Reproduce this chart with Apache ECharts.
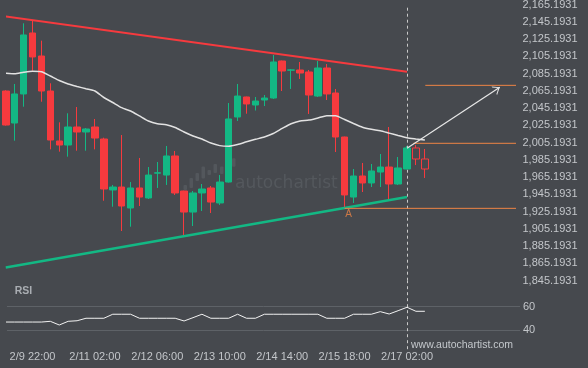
<!DOCTYPE html>
<html>
<head>
<meta charset="utf-8">
<title>Chart</title>
<script src="https://cdn.jsdelivr.net/npm/echarts@6.0.0/dist/echarts.min.js"></script>
<style>
html,body{margin:0;padding:0;background:#46494e;overflow:hidden;}
#chart{width:588px;height:368px;}
</style>
</head>
<body>
<div id="chart"></div>
<script>
// ---------------- data ----------------
const timeLabels = ['2/9 22:00', '2/11 02:00', '2/12 06:00', '2/13 10:00', '2/14 14:00', '2/15 18:00', '2/17 02:00'];
const timeLabelIndex = [3, 10, 17, 24, 31, 38, 45];

const opens  = [2065.1, 2028.0, 2061.7, 2132.4, 2105.7, 2065.1, 2007.2, 2002.5, 2023.4, 2017.6,
                2023.4, 2009.5, 1950.4, 1953.8, 1929.5, 1952.7, 1941.1, 1969.9, 1967.7, 1989.8,
                1949.2, 1924.8, 1946.9, 1952.7, 1935.3, 1959.6, 2035.0, 2058.2, 2048.9, 2054.7,
                2057.0, 2099.9, 2089.3, 2089.5, 2087.2, 2059.3, 2091.8, 2062.8, 2011.8, 1942.2,
                1966.6, 1958.5, 1971.2, 1977.0, 1957.3, 1974.7, 1999.1, 1986.3];
const closes = [2025.7, 2061.7, 2130.1, 2104.6, 2065.1, 2008.3, 2002.5, 2023.4, 2017.6, 2021.1,
                2010.6, 1951.5, 1953.8, 1931.8, 1952.7, 1942.2, 1967.7, 1970.3, 1989.8, 1946.9,
                1924.8, 1946.9, 1951.5, 1936.4, 1959.6, 2032.7, 2059.3, 2050.1, 2053.5, 2057.0,
                2098.8, 2088.3, 2089.6, 2086.0, 2060.5, 2091.8, 2061.7, 2011.8, 1944.6, 1966.6,
                1958.5, 1972.4, 1977.0, 1957.3, 1975.9, 1999.1, 1986.3, 1974.7];
const lows   = [2025.0, 2007.5, 2046.9, 2088.7, 2052.7, 1997.5, 1994.8, 1989.0, 1995.9, 1995.9,
                1997.5, 1937.9, 1931.0, 1902.8, 1907.8, 1931.8, 1939.9, 1952.7, 1956.2, 1944.6,
                1898.2, 1908.6, 1926.0, 1923.7, 1933.0, 1959.0, 2030.4, 2038.8, 2042.5, 2047.7,
                2055.9, 2065.1, 2067.5, 2079.1, 2038.5, 2058.2, 2054.7, 1994.4, 1930.6, 1935.3,
                1948.0, 1953.8, 1953.8, 1938.8, 1956.2, 1974.4, 1979.3, 1964.3];
const highs  = [2066.0, 2073.3, 2143.6, 2147.5, 2123.5, 2074.1, 2028.8, 2039.3, 2046.6, 2022.2,
                2032.7, 2011.0, 1956.2, 2014.1, 1959.6, 1987.5, 1977.0, 1982.8, 2001.4, 1995.6,
                1949.6, 1949.2, 1957.3, 1955.0, 1967.7, 2051.2, 2073.3, 2058.6, 2058.2, 2060.5,
                2106.9, 2100.4, 2090.6, 2098.8, 2089.5, 2099.9, 2096.4, 2067.5, 2012.2, 1974.7,
                1981.7, 1980.5, 1992.1, 2023.4, 1988.6, 2001.4, 2002.5, 1997.9];
const projectedFrom = 46;   // candles from this index on are the hollow (projected) ones

const maValues = [2085.7, 2085.1, 2086.8, 2088.0, 2087.4, 2082.5, 2077.3, 2073.3, 2070.4, 2067.7,
                  2065.1, 2057.6, 2051.8, 2045.8, 2041.9, 2036.2, 2030.4, 2027.2, 2025.9, 2022.8,
                  2017.6, 2013.0, 2009.5, 2004.8, 2001.8, 2001.1, 2003.1, 2006.2, 2009.1, 2011.8,
                  2015.9, 2021.7, 2027.2, 2030.4, 2031.4, 2033.9, 2036.5, 2036.4, 2032.1, 2027.5,
                  2023.2, 2020.8, 2019.1, 2016.3, 2013.5, 2011.0, 2009.6, 2008.3];

const rsiValues = [47.0, 47.0, 47.0, 47.0, 47.0, 47.6, 44.5, 47.6, 48.1, 50.2,
                   50.2, 50.2, 53.6, 53.6, 53.6, 50.2, 50.2, 50.2, 50.2, 50.2,
                   47.9, 50.7, 53.6, 50.2, 50.2, 50.2, 53.6, 50.2, 50.2, 53.6,
                   53.6, 53.6, 53.6, 53.6, 53.6, 53.6, 50.2, 50.2, 50.2, 53.6,
                   53.6, 53.6, 55.8, 53.8, 56.6, 59.5, 56.1, 56.1];

const priceTicks = [1845.1931, 1865.1931, 1885.1931, 1905.1931, 1925.1931, 1945.1931, 1965.1931,
                    1985.1931, 2005.1931, 2025.1931, 2045.1931, 2065.1931, 2085.1931, 2105.1931,
                    2125.1931, 2145.1931, 2165.1931];
const rsiTicks = [40, 60];

const resistanceLine = [[0, 2151.5], [45, 2087.5]];
const supportLine    = [[0, 1860.5], [45, 1942.2]];
const patternEndIndex = 45;
const supportLevel  = [38, 1929.1];
const breakoutLevel = [45.7, 2004.5];
const targetLevel   = [47.05, 2071.7];
const forecastArrow = [[45, 1998.7], [55.4, 2069.6]];
const pointA = [38.44, 1922.3];
const pointALabel = 'A';

// ---------------- styles / layout ----------------
const BG = '#46494e';
const GREEN = '#13b884';
const RED = '#f63a3e';
const ORANGE = '#ee8545';
const TXT = '#c3c6ca';
const GRIDC = '#5e6267';
const FONT = '"Liberation Sans", Arial, sans-serif';
const X_MIN = 0.14, X_MAX_MAIN = 57.22, X_MAX_RSI = 57.67;
const ARROW = 'path://M0,0 M13,13 M6.5,6.5 L11.5,13 L10.3,13 L6.5,8.1 L2.7,13 L1.5,13 Z';

function fmtPrice(v) {
  const s = (Math.round(v * 10000) / 10000).toFixed(4);
  const p = s.split('.');
  return p[0].replace(/\B(?=(\d{3})+(?!\d))/g, ',') + '.' + p[1];
}

const solidCandles = [], projectedCandles = [];
for (let i = 0; i < opens.length; i++) {
  const row = [i, opens[i], closes[i], lows[i], highs[i]];
  (i < projectedFrom ? solidCandles : projectedCandles).push(row);
}
const maData = maValues.map((v, i) => [i, v]);
const rsiData = rsiValues.map((v, i) => [i, v]);
const levelData = lv => [[lv[0], lv[1]], [X_MAX_MAIN, lv[1]]];

const chart = echarts.init(document.getElementById('chart'), null, {renderer: 'canvas', width: 588, height: 368});

const logoBars = [[183.5,185,3.5,5],[189.5,178,3.5,10],[195.5,173,3.5,8],[201.5,166.5,3.5,12],
                  [207.5,170,3.5,5],[213.5,164,3.5,9],[220,166.5,3.5,7.5],[226.5,160,3.5,10],[232,158.3,3.5,8.4]];

const option = {
  backgroundColor: BG,
  animation: false,
  textStyle: {fontFamily: FONT},
  grid: [
    {left: 7, top: 4.7, width: 509, height: 276, outerBoundsMode: 'none', containLabel: false},
    {left: 7, top: 280.7, width: 513, height: 68.5, outerBoundsMode: 'none', containLabel: false}
  ],
  xAxis: [
    {type: 'value', gridIndex: 0, min: X_MIN, max: X_MAX_MAIN, show: false},
    {type: 'value', gridIndex: 1, min: X_MIN, max: X_MAX_RSI,
     axisLine: {show: false}, axisTick: {show: false}, splitLine: {show: false},
     axisLabel: {customValues: timeLabelIndex, color: TXT, fontSize: 11, fontFamily: FONT, margin: 2,
                 showMinLabel: true, showMaxLabel: true, hideOverlap: false,
                 formatter: v => { const k = timeLabelIndex.indexOf(Math.round(v)); return k >= 0 ? timeLabels[k] : ''; }}}
  ],
  yAxis: [
    {type: 'value', gridIndex: 0, position: 'right', min: 1845.1931, max: 2165.1931, scale: true,
     axisLine: {show: false}, axisTick: {show: false}, splitLine: {show: false},
     axisLabel: {customValues: priceTicks, color: TXT, fontSize: 11, fontFamily: FONT, margin: 6.5,
                 hideOverlap: false, formatter: fmtPrice}},
    {type: 'value', gridIndex: 1, position: 'right', min: 24, max: 82, scale: true,
     axisLine: {show: false}, axisTick: {show: false}, splitLine: {show: false},
     axisLabel: {customValues: rsiTicks, color: TXT, fontSize: 11, fontFamily: FONT, margin: 3,
                 hideOverlap: false, formatter: v => String(Math.round(v))}}
  ],
  graphic: [
    ...logoBars.map(b => ({type: 'rect', silent: true, z: 0, shape: {x: b[0], y: b[1], width: b[2], height: b[3], r: 1},
                           style: {fill: '#53575c'}})),
    {type: 'text', silent: true, z: 0, x: 235, y: 184,
     style: {text: 'autochartist', font: '17px "DejaVu Sans", sans-serif', fill: '#54585d', verticalAlign: 'middle'}},
    {type: 'text', silent: true, z: 10, x: 411, y: 345,
     style: {text: 'www.autochartist.com', font: '10.5px "Liberation Sans", Arial, sans-serif', fill: '#c4c8cc', verticalAlign: 'middle'}},
    {type: 'text', silent: true, z: 10, x: 14.7, y: 291,
     style: {text: 'RSI', font: 'bold 10.5px "Liberation Sans", Arial, sans-serif', fill: '#a9adb2', verticalAlign: 'middle'}}
  ],
  series: [
    {name: 'Candles', type: 'candlestick', xAxisIndex: 0, yAxisIndex: 0, barWidth: 7, z: 2,
     data: solidCandles,
     itemStyle: {color: GREEN, color0: RED, borderColor: GREEN, borderColor0: RED, borderWidth: 1},
     markLine: {silent: true, z: 1, symbol: ['none', 'none'], label: {show: false},
                lineStyle: {color: '#c9c9c9', type: [3, 3], width: 1},
                data: [{xAxis: patternEndIndex}]}},
    {name: 'Projection', type: 'candlestick', xAxisIndex: 0, yAxisIndex: 0, barWidth: 7, z: 2,
     data: projectedCandles,
     itemStyle: {color: BG, color0: BG, borderColor: RED, borderColor0: RED, borderWidth: 1}},
    {name: 'MA', type: 'line', xAxisIndex: 0, yAxisIndex: 0, data: maData, symbol: 'none', smooth: 0.2, z: 3,
     lineStyle: {color: '#e2e2e2', width: 1.5}},
    {name: 'Resistance', type: 'line', xAxisIndex: 0, yAxisIndex: 0, data: resistanceLine, symbol: 'none', z: 4,
     lineStyle: {color: RED, width: 2}},
    {name: 'Support', type: 'line', xAxisIndex: 0, yAxisIndex: 0, data: supportLine, symbol: 'none', z: 4,
     lineStyle: {color: GREEN, width: 2.5},
     markLine: {silent: true, symbol: ['none', ARROW], symbolSize: 13, label: {show: false},
                lineStyle: {color: '#e8e8e8', width: 1.2, type: 'solid'},
                data: [[{coord: forecastArrow[0]}, {coord: forecastArrow[1]}]]}},
    {name: 'SupportLevel', type: 'line', xAxisIndex: 0, yAxisIndex: 0, data: levelData(supportLevel), symbol: 'none', z: 4,
     lineStyle: {color: ORANGE, width: 1}},
    {name: 'BreakoutLevel', type: 'line', xAxisIndex: 0, yAxisIndex: 0, data: levelData(breakoutLevel), symbol: 'none', z: 4,
     lineStyle: {color: ORANGE, width: 1}},
    {name: 'TargetLevel', type: 'line', xAxisIndex: 0, yAxisIndex: 0, data: levelData(targetLevel), symbol: 'none', z: 4,
     lineStyle: {color: ORANGE, width: 1}},
    {name: 'PointA', type: 'scatter', xAxisIndex: 0, yAxisIndex: 0, data: [pointA], symbol: 'circle', symbolSize: 1, z: 5,
     itemStyle: {color: 'rgba(0,0,0,0)'},
     label: {show: true, position: 'inside', formatter: pointALabel, color: ORANGE, fontSize: 10, fontFamily: FONT}},
    {name: 'RSI', type: 'line', xAxisIndex: 1, yAxisIndex: 1, data: rsiData, symbol: 'none', z: 3,
     lineStyle: {color: '#f2f2f2', width: 1},
     markLine: {silent: true, z: 1, symbol: ['none', 'none'], label: {show: false},
                data: [
                  {yAxis: rsiTicks[0], lineStyle: {color: GRIDC, type: 'solid', width: 1}},
                  {yAxis: rsiTicks[1], lineStyle: {color: GRIDC, type: 'solid', width: 1}},
                  {xAxis: patternEndIndex, lineStyle: {color: '#c9c9c9', type: [3, 3], width: 1}}
                ]}}
  ]
};
chart.setOption(option);
</script>
</body>
</html>
